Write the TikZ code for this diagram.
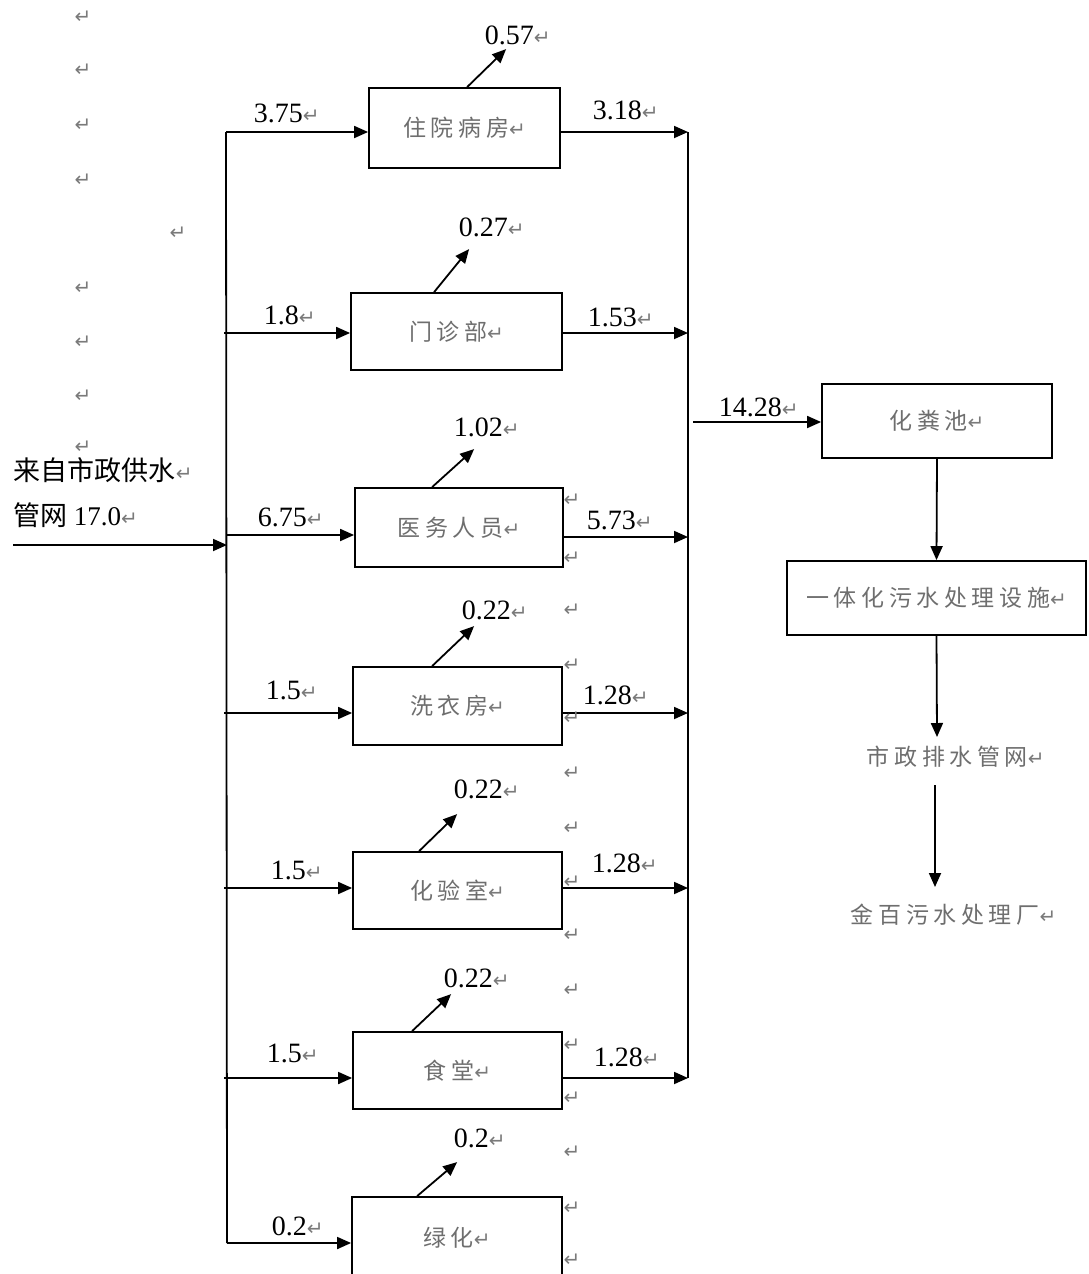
\documentclass[tikz,border=0pt]{standalone}
\usepackage{fontspec}
\setmainfont{Liberation Serif}
\newfontfamily\cjkfont{Noto Sans CJK SC}
\newfontfamily\cjkspaced[LetterSpace=20]{Noto Sans CJK SC}
\newfontfamily\symfont{DejaVu Sans}
\usetikzlibrary{arrows.meta}
\definecolor{retgray}{HTML}{7A7A7A}
\definecolor{boxtext}{HTML}{6E6E6E}
\newcommand{\retmark}{{\symfont\fontsize{20}{20}\selectfont\color{retgray}↵}}
\begin{document}
\begin{tikzpicture}[x=1pt,y=-1pt,
  line width=1.8pt,
  arr/.style={-{Triangle[length=14pt,width=12pt]}, line width=1.8pt},
  procbox/.style={draw, line width=1.8pt, inner sep=0pt, text=boxtext,
    font=\cjkspaced\fontsize{23}{23}\selectfont},
  plaincjk/.style={anchor=west, inner sep=0pt, text=boxtext,
    font=\cjkspaced\fontsize{23}{23}\selectfont},
  num/.style={anchor=west, inner sep=0pt, font=\fontsize{28}{28}\selectfont},
  srctext/.style={anchor=west, inner sep=0pt, font=\cjkfont\fontsize{27}{27}\selectfont},
  retm/.style={inner sep=0pt}]
\useasboundingbox (0,0) rectangle (1088,1274);

% process boxes
\node[procbox, minimum width=191pt, minimum height=80pt] (b1) at (464.5,128) {住院病房\retmark};
\node[procbox, minimum width=211pt, minimum height=77pt] (b2) at (456.5,331.5) {门诊部\retmark};
\node[procbox, minimum width=208pt, minimum height=79pt] (b3) at (459,527.5) {医务人员\retmark};
\node[procbox, minimum width=209pt, minimum height=78pt] (b4) at (457.5,706) {洗衣房\retmark};
\node[procbox, minimum width=209pt, minimum height=77pt] (b5) at (457.5,890.5) {化验室\retmark};
\node[procbox, minimum width=209pt, minimum height=77pt] (b6) at (457.5,1070.5) {食堂\retmark};
\node[procbox, minimum width=210pt, minimum height=82pt] (b7) at (457,1238) {绿化\retmark};

\node[procbox, minimum width=230pt, minimum height=74pt] (sep) at (937,421) {化粪池\retmark};
\node[procbox, minimum width=299pt, minimum height=74pt] (fac) at (936.5,598) {一体化污水处理设施\retmark};
\node[plaincjk] (m1) at (866,757) {市政排水管网\retmark};
\node[plaincjk] (m2) at (850,915) {金百污水处理厂\retmark};

% source
\node[srctext] (src1) at (13,470) {来自市政供水\retmark};
\node[srctext] (src2) at (13,515) {管网 {\rmfamily 17.0}\retmark};
\coordinate (src) at (13,545);

% left bus
\coordinate (L1) at (226,132);
\coordinate (L2) at (224,333);
\coordinate (Lin) at (227,545);
\coordinate (L3) at (226,535);
\coordinate (L4) at (224,713);
\coordinate (L5) at (224,888);
\coordinate (L6) at (224,1078);
\coordinate (L7) at (227,1243);
\draw (L1) -- (L7);
\draw[arr] (src) -- (Lin);
\draw[arr] (L1) -- (L1 -| b1.west);
\draw[arr] (L2) -- (L2 -| b2.west);
\draw[arr] (L3) -- (L3 -| b3.west);
\draw[arr] (L4) -- (L4 -| b4.west);
\draw[arr] (L5) -- (L5 -| b5.west);
\draw[arr] (L6) -- (L6 -| b6.west);
\draw[arr] (L7) -- (L7 -| b7.west);

% right bus
\coordinate (R1) at (688,132);
\coordinate (R2) at (688,333);
\coordinate (R3) at (688,537);
\coordinate (R4) at (688,713);
\coordinate (R5) at (688,888);
\coordinate (R6) at (688,1078);
\draw (R1) -- (R6);
\draw[arr] (b1.east |- R1) -- (R1);
\draw[arr] (b2.east |- R2) -- (R2);
\draw[arr] (b3.east |- R3) -- (R3);
\draw[arr] (b4.east |- R4) -- (R4);
\draw[arr] (b5.east |- R5) -- (R5);
\draw[arr] (b6.east |- R6) -- (R6);

\coordinate (Rout) at (693,422);
\draw[arr] (Rout) -- (Rout -| sep.west);
\draw[arr] (sep.south) -- (fac.north);
\coordinate (m1top) at (937,737);
\coordinate (m1bot) at (935,785);
\coordinate (m2top) at (935,887);
\draw[arr] (fac.south) -- (m1top);
\draw[arr] (m1bot) -- (m2top);

% loss arrows
\draw[arr] ([xshift=99pt]b1.north west) -- ++(39,-38);
\draw[arr] ([xshift=84pt]b2.north west) -- ++(35,-43);
\draw[arr] ([xshift=78pt]b3.north west) -- ++(42,-38);
\draw[arr] ([xshift=80pt]b4.north west) -- ++(42,-40);
\draw[arr] ([xshift=67pt]b5.north west) -- ++(38,-37);
\draw[arr] ([xshift=60pt]b6.north west) -- ++(39,-37);
\draw[arr] ([xshift=66pt]b7.north west) -- ++(40,-34);

% numbers
\node[num] (u1) at (484,35) {0.57\retmark};
\node[num] (u2) at (458,227) {0.27\retmark};
\node[num] (u3) at (453,427) {1.02\retmark};
\node[num] (u4) at (461,610) {0.22\retmark};
\node[num] (u5) at (453,789) {0.22\retmark};
\node[num] (u6) at (443,978) {0.22\retmark};
\node[num] (u7) at (453,1138) {0.2\retmark};

\node[num] (i1) at (253,113) {3.75\retmark};
\node[num] (i2) at (263,315) {1.8\retmark};
\node[num] (i3) at (257,517) {6.75\retmark};
\node[num] (i4) at (265,690) {1.5\retmark};
\node[num] (i5) at (270,870) {1.5\retmark};
\node[num] (i6) at (266,1053) {1.5\retmark};
\node[num] (i7) at (271,1226) {0.2\retmark};

\node[num] (o1) at (592,110) {3.18\retmark};
\node[num] (o2) at (587,317) {1.53\retmark};
\node[num] (o3) at (586,520) {5.73\retmark};
\node[num] (o4) at (582,695) {1.28\retmark};
\node[num] (o5) at (591,863) {1.28\retmark};
\node[num] (o6) at (593,1057) {1.28\retmark};
\node[num] (tot) at (718,407) {14.28\retmark};

% stray paragraph marks
\foreach \px/\py [count=\i] in {83/17, 83/70, 83/125, 83/180, 178/233, 83/288, 83/342, 83/396, 83/447,
  572/500, 572/558, 572/610, 572/665, 572/718, 572/773, 572/828, 572/882, 572/935,
  572/990, 572/1045, 572/1098, 572/1152, 572/1208, 572/1260}
  \node[retm] (rm\i) at (\px,\py) {\retmark};
\end{tikzpicture}
\end{document}
